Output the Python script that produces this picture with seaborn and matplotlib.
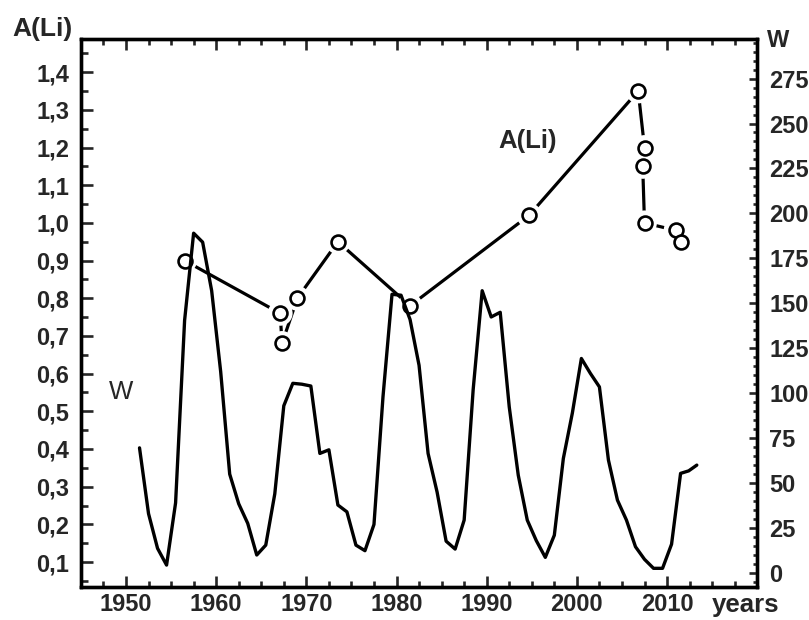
import matplotlib
matplotlib.use("Agg")
import matplotlib.pyplot as plt
import seaborn as sns
import pandas as pd
from matplotlib.ticker import FixedLocator, MultipleLocator

# ---- data ----
w_years = [1951.5, 1952.5, 1953.5, 1954.5, 1955.5, 1956.5, 1957.5, 1958.5, 1959.5, 1960.5,
           1961.5, 1962.5, 1963.5, 1964.5, 1965.5, 1966.5, 1967.5, 1968.5, 1969.5, 1970.5,
           1971.5, 1972.5, 1973.5, 1974.5, 1975.5, 1976.5, 1977.5, 1978.5, 1979.5, 1980.5,
           1981.5, 1982.5, 1983.5, 1984.5, 1985.5, 1986.5, 1987.5, 1988.5, 1989.5, 1990.5,
           1991.5, 1992.5, 1993.5, 1994.5, 1995.5, 1996.5, 1997.5, 1998.5, 1999.5, 2000.5,
           2001.5, 2002.5, 2003.5, 2004.5, 2005.5, 2006.5, 2007.5, 2008.5, 2009.5, 2010.5,
           2011.5, 2012.4, 2013.3]
w_values = [69.6, 33.0, 13.7, 4.4, 39.0, 140.5, 189.0, 184.0, 157.0, 112.0,
            55.0, 38.5, 27.6, 10.0, 15.5, 44.0, 93.0, 105.5, 105.0, 104.0,
            66.5, 68.5, 37.8, 34.0, 15.5, 12.4, 27.0, 98.0, 155.0, 154.5,
            141.0, 115.5, 66.5, 45.0, 17.7, 13.3, 29.4, 102.0, 157.0, 142.4,
            145.0, 92.4, 54.4, 29.4, 18.0, 8.7, 21.0, 63.7, 89.0, 119.3,
            111.0, 103.5, 62.8, 40.5, 29.4, 14.6, 7.6, 2.6, 2.6, 16.0,
            55.4, 56.8, 60.0]

li_years = [1956.5, 1967.1, 1967.3, 1969.0, 1973.5, 1981.5, 1994.7,
            2006.8, 2007.5, 2007.3, 2007.5, 2011.0, 2011.5]
li_values = [0.90, 0.76, 0.68, 0.80, 0.95, 0.78, 1.02,
             1.35, 1.20, 1.15, 1.00, 0.98, 0.95]

x_ticks = [1950, 1960, 1970, 1980, 1990, 2000, 2010]
x_labels = ["1950", "1960", "1970", "1980", "1990", "2000", "2010"]
li_ticks = [0.1, 0.2, 0.3, 0.4, 0.5, 0.6, 0.7, 0.8, 0.9, 1.0, 1.1, 1.2, 1.3, 1.4]
li_labels = ["0,1", "0,2", "0,3", "0,4", "0,5", "0,6", "0,7", "0,8", "0,9",
             "1,0", "1,1", "1,2", "1,3", "1,4"]
w_ticks = [0, 25, 50, 75, 100, 125, 150, 175, 200, 225, 250, 275]
w_labels = ["0", "25", "50", "75", "100", "125", "150", "175", "200", "225", "250", "275"]

df_w = pd.DataFrame({"year": w_years, "W": w_values})
df_li = pd.DataFrame({"year": li_years, "ALi": li_values})

# ---- style ----
sns.set_style("ticks")
plt.rcParams["font.family"] = ["Liberation Sans", "DejaVu Sans"]
plt.rcParams["font.weight"] = "bold"

fig = plt.figure(figsize=(8.09, 6.20), dpi=100)
ax = fig.add_axes([0.100, 0.0532, 0.836, 0.8839])
ax2 = ax.twinx()

# A(Li) on primary axes (left scale)
sns.lineplot(data=df_li, x="year", y="ALi", sort=False, estimator=None, ax=ax,
             color="black", linewidth=2.3, zorder=2)
sns.scatterplot(data=df_li, x="year", y="ALi", ax=ax, s=320, color="white",
                edgecolor="none", linewidth=0, zorder=3)
sns.scatterplot(data=df_li, x="year", y="ALi", ax=ax, s=100, facecolor="white",
                edgecolor="black", linewidth=1.9, zorder=4)

# W on twin axes (right scale)
sns.lineplot(data=df_w, x="year", y="W", ax=ax2, color="black", linewidth=2.4,
             sort=False, estimator=None)

ax.set_xlim(1945, 2020)
ax.set_ylim(0.0337, 1.488)
ax2.set_ylim(-7.8, 297)

ax.xaxis.set_major_locator(FixedLocator(x_ticks))
ax.set_xticklabels(x_labels)
ax.xaxis.set_minor_locator(MultipleLocator(2.5))
ax.yaxis.set_major_locator(FixedLocator(li_ticks))
ax.set_yticklabels(li_labels)
ax.yaxis.set_minor_locator(MultipleLocator(0.05))
ax2.yaxis.set_major_locator(FixedLocator(w_ticks))
ax2.set_yticklabels(w_labels)
ax2.yaxis.set_minor_locator(MultipleLocator(5))

ax.set_xlabel("")
ax.set_ylabel("")
ax2.set_ylabel("")

ax.tick_params(axis="x", which="both", direction="in", top=True, bottom=True,
               labelsize=17, pad=4.5, width=1.9)
ax.tick_params(axis="x", which="major", length=8)
ax.tick_params(axis="x", which="minor", length=4.5)
ax.tick_params(axis="y", which="both", direction="in", left=True, right=False,
               labelsize=17, pad=8.5, width=1.9)
ax.tick_params(axis="y", which="major", length=8.5)
ax.tick_params(axis="y", which="minor", length=5)
ax2.tick_params(axis="y", which="both", direction="in", right=True, left=False,
                labelsize=17, pad=8.5, width=1.9)
ax2.tick_params(axis="y", which="major", length=5.5)
ax2.tick_params(axis="y", which="minor", length=3)

for a in (ax, ax2):
    for sp in a.spines.values():
        sp.set_linewidth(2.4)
        sp.set_visible(True)
        sp.set_color("black")

# texts
fig.text(0.052, 0.954, "A(Li)", ha="center", va="center", fontsize=19, fontweight="bold")
fig.text(0.962, 0.935, "W", ha="center", va="center", fontsize=17, fontweight="bold")
fig.text(0.880, 0.013, "years", ha="left", va="baseline", fontsize=18.5, fontweight="bold")
ax.text(1949.4, 0.551, "W", ha="center", va="center", fontsize=18.5, fontweight="normal")
ax.text(1994.5, 1.217, "A(Li)", ha="center", va="center", fontsize=18.5, fontweight="bold")

fig.savefig("out.png", dpi=100)
